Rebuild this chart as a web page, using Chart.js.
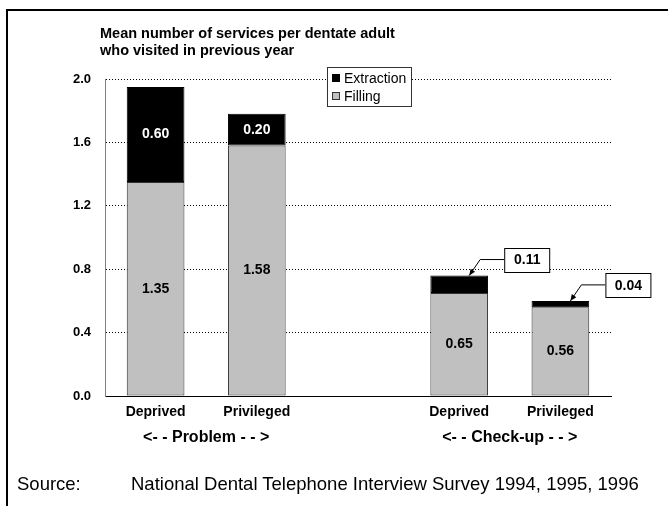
<!DOCTYPE html>
<html>
<head>
<meta charset="utf-8">
<title>Mean number of services per dentate adult</title>
<script src="https://cdn.jsdelivr.net/npm/chart.js@4/dist/chart.umd.min.js"></script>
<style>
  html, body { margin: 0; padding: 0; background: #fff; }
  #wrap { position: relative; width: 668px; height: 506px; overflow: hidden; font-family: 'Liberation Sans', Arial, sans-serif; }
  #frame { position: absolute; left: 6px; top: 9px; width: 700px; height: 600px; border-top: 2px solid #000; border-left: 2px solid #000; }
  #chart { position: absolute; left: 0; top: 0; }
  .source { position: absolute; top: 474px; font-size: 18.5px; line-height: 20px; color: #000; white-space: nowrap; }
</style>
</head>
<body>
<div id="wrap">
  <div id="frame"></div>
  <canvas id="chart" width="668" height="506"></canvas>
  <div class="source" style="left:17px">Source:</div>
  <div class="source" style="left:131px">National Dental Telephone Interview Survey 1994, 1995, 1996</div>
</div>
<script>
// bar slots: the empty one in the middle separates the two visit types
const categories = ['Deprived', 'Privileged', '', 'Deprived', 'Privileged'];
const fillingValues = [1.35, 1.58, null, 0.65, 0.56];
const extractionValues = [0.60, 0.20, null, 0.11, 0.04];
const groupLabels = ['<- - Problem - - >', '<- - Check-up - - >'];
const groupSlots = [[0, 1], [3, 4]];
const titleLines = ['Mean number of services per dentate adult', 'who visited in previous year'];
const yTicks = [0, 0.4, 0.8, 1.2, 1.6, 2.0];

const FONT = "'Liberation Sans', Arial, sans-serif";
Chart.defaults.font.family = FONT;
Chart.defaults.color = '#000';

// title, group captions, legend box and segment values
const decorations = {
  id: 'decorations',
  afterDatasetsDraw(chart) {
    const ctx = chart.ctx;
    const xs = chart.scales.x;
    ctx.save();

    // segment values: inside the bar if it fits, otherwise a callout box
    chart.data.datasets.forEach((ds, di) => {
      const meta = chart.getDatasetMeta(di);
      meta.data.forEach((bar, i) => {
        const v = ds.data[i];
        if (v == null) return;
        const top = Math.min(bar.y, bar.base);
        const h = Math.abs(bar.base - bar.y);
        const text = v.toFixed(2);
        ctx.font = 'bold 14px ' + FONT;
        ctx.textAlign = 'center';
        ctx.textBaseline = 'middle';
        if (h >= 20) {
          ctx.fillStyle = di === 1 ? '#fff' : '#000';
          ctx.fillText(text, bar.x, top + h / 2);
        } else {
          const tipX = bar.x + 10, tipY = top;
          const bendX = tipX + 11, bendY = tipY - 16;
          const boxX = tipX + 35, boxW = 45, boxH = 24;
          ctx.strokeStyle = '#000';
          ctx.lineWidth = 1;
          ctx.beginPath();
          ctx.moveTo(boxX, bendY);
          ctx.lineTo(bendX, bendY);
          ctx.lineTo(tipX, tipY);
          ctx.stroke();
          // arrow head
          const ang = Math.atan2(tipY - bendY, tipX - bendX);
          ctx.fillStyle = '#000';
          ctx.beginPath();
          ctx.moveTo(tipX, tipY);
          ctx.lineTo(tipX - 7 * Math.cos(ang - 0.4), tipY - 7 * Math.sin(ang - 0.4));
          ctx.lineTo(tipX - 7 * Math.cos(ang + 0.4), tipY - 7 * Math.sin(ang + 0.4));
          ctx.closePath();
          ctx.fill();
          ctx.fillStyle = '#fff';
          ctx.fillRect(boxX, bendY - boxH / 2, boxW, boxH);
          ctx.strokeRect(boxX + 0.5, Math.round(bendY - boxH / 2) + 0.5, boxW, boxH);
          ctx.fillStyle = '#000';
          ctx.fillText(text, boxX + boxW / 2 + 0.5, bendY + 1);
        }
      });
    });

    // title
    ctx.font = 'bold 14.5px ' + FONT;
    ctx.textAlign = 'left';
    ctx.textBaseline = 'middle';
    ctx.fillStyle = '#000';
    titleLines.forEach((t, i) => ctx.fillText(t, 100, 34 + i * 17));

    // group captions under the category labels
    ctx.font = 'bold 16px ' + FONT;
    ctx.textAlign = 'center';
    groupLabels.forEach((g, i) => {
      const [a, b] = groupSlots[i];
      const cx = (xs.getPixelForValue(a) + xs.getPixelForValue(b)) / 2;
      ctx.fillText(g, cx, 438);
    });

    // legend, extraction listed first
    const lx = 327, ly = 67, lw = 84, lh = 39;
    ctx.fillStyle = '#fff';
    ctx.fillRect(lx, ly, lw, lh);
    ctx.strokeStyle = '#333';
    ctx.strokeRect(lx + 0.5, ly + 0.5, lw, lh);
    const items = chart.data.datasets.slice().reverse();
    ctx.font = '14px ' + FONT;
    ctx.textAlign = 'left';
    items.forEach((ds, i) => {
      const cy = ly + 11 + i * 18;
      ctx.fillStyle = ds.backgroundColor;
      ctx.fillRect(lx + 5, cy - 4, 8, 8);
      ctx.strokeStyle = ds.borderColor;
      ctx.strokeRect(lx + 5.5, cy - 3.5, 7, 7);
      ctx.fillStyle = '#000';
      ctx.fillText(ds.label, lx + 17, cy + 1);
    });

    ctx.restore();
  }
};

new Chart(document.getElementById('chart'), {
  type: 'bar',
  data: {
    labels: categories,
    datasets: [
      {
        label: 'Filling',
        data: fillingValues,
        backgroundColor: '#c0c0c0',
        borderColor: '#333333',
        borderWidth: 1,
        borderSkipped: false
      },
      {
        label: 'Extraction',
        data: extractionValues,
        backgroundColor: '#000000',
        borderColor: '#000000',
        borderWidth: 1,
        borderSkipped: false
      }
    ]
  },
  options: {
    responsive: false,
    animation: false,
    devicePixelRatio: 1,
    layout: { padding: { left: 0, top: 79, right: 57, bottom: 0 } },
    datasets: { bar: { categoryPercentage: 1, barPercentage: 0.57 } },
    plugins: {
      legend: { display: false },
      tooltip: { enabled: false }
    },
    scales: {
      x: {
        stacked: true,
        grid: { display: false, drawTicks: false },
        border: { display: true, color: '#000', width: 1 },
        ticks: { font: { size: 14, weight: 'bold' }, color: '#000', padding: 8, maxRotation: 0 },
        afterFit(scale) { scale.height = 110; }
      },
      y: {
        stacked: true,
        min: 0,
        max: 2,
        afterBuildTicks(scale) { scale.ticks = yTicks.map(v => ({ value: v })); },
        ticks: {
          font: { size: 13, weight: 'bold' },
          color: '#000',
          padding: 14,
          callback: v => v.toFixed(1)
        },
        grid: {
          drawTicks: false,
          lineWidth: 1,
          color: c => c.tick && c.tick.value === 0 ? 'rgba(0,0,0,0)' : '#000'
        },
        border: { display: true, color: '#808080', width: 1, dash: [1, 2] },
        afterFit(scale) { scale.width = 105; }
      }
    }
  },
  plugins: [decorations]
});
</script>
</body>
</html>
